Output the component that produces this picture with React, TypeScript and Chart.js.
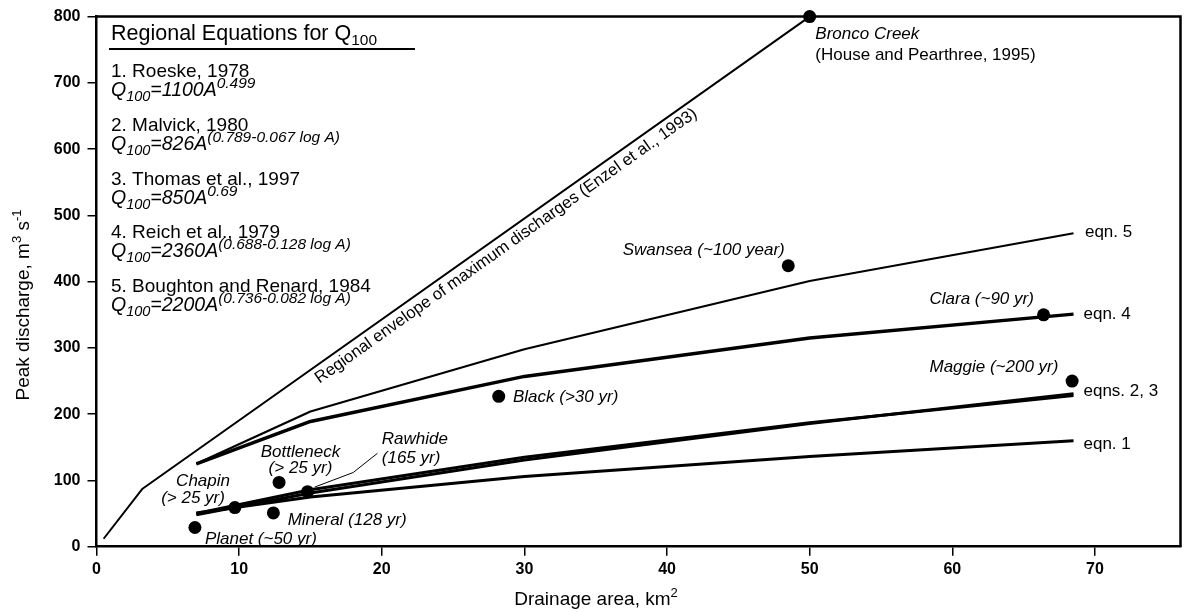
import React, { useEffect, useRef } from "react";
import { Chart, registerables } from "chart.js";

Chart.register(...registerables);

// ---------- data ----------
const eqnAreas = [7, 15, 30, 50, 68.5];
const eqn1Values = [51, 75, 106, 136, 160];
const eqn2Values = [50, 86, 135, 187, 228];
const eqn3Values = [48, 81, 131, 186, 231];
const eqn4Values = [125, 189, 257, 315, 351];
const eqn5Values = [125, 204, 298, 401, 473];

const envelopeAreas = [0.5, 3.2, 50];
const envelopeValues = [12, 87, 800];

const siteNames = ["Bronco Creek", "Swansea", "Clara", "Maggie", "Black", "Bottleneck", "Rawhide", "Chapin", "Mineral", "Planet"];
const siteAreas = [50, 48.5, 66.4, 68.4, 28.2, 12.8, 14.8, 9.7, 12.4, 6.9];
const siteDischarges = [800, 424, 350, 250, 227, 97, 83, 59, 51, 29];

const leaderAreas = [15.3, 18.0, 19.7];
const leaderValues = [90, 112, 141];

const xTickValues = [0, 10, 20, 30, 40, 50, 60, 70];
const yTickValues = [0, 100, 200, 300, 400, 500, 600, 700, 800];

const eqnRefs = ["1. Roeske, 1978", "2. Malvick, 1980", "3. Thomas et al., 1997", "4. Reich et al., 1979", "5. Boughton and Renard, 1984"];
const eqnCoefs = ["=1100A", "=826A", "=850A", "=2360A", "=2200A"];
const eqnExps = ["0.499", "(0.789-0.067 log A)", "0.69", "(0.688-0.128 log A)", "(0.736-0.082 log A)"];

const legendTitle = "Regional Equations for Q";
const envelopeText = "Regional envelope of maximum discharges (Enzel et al., 1993)";
const xTitle = "Drainage area, km";
const yTitle = "Peak discharge, m";

const FONT = '"Liberation Sans", Arial, Helvetica, sans-serif';

type Seg = { t: string; size: number; italic?: boolean; bold?: boolean; dy?: number };

function segFont(s: Seg) {
  return `${s.italic ? "italic " : ""}${s.bold ? "bold " : ""}${s.size}px ${FONT}`;
}

function drawRich(ctx: CanvasRenderingContext2D, segs: Seg[], x: number, y: number, align: string) {
  let w = 0;
  for (const s of segs) {
    ctx.font = segFont(s);
    w += ctx.measureText(s.t).width;
  }
  let cx = align === "left" ? x : align === "center" ? x - w / 2 : x - w;
  ctx.textAlign = "left";
  ctx.textBaseline = "alphabetic";
  for (const s of segs) {
    ctx.font = segFont(s);
    ctx.fillText(s.t, cx, y + (s.dy || 0));
    cx += ctx.measureText(s.t).width;
  }
}

export default function App() {
  const ref = useRef<HTMLCanvasElement | null>(null);

  useEffect(() => {
    const canvas = ref.current;
    if (!canvas) return;

    const siteLabels = [
      { t: "Bronco Creek", x: 50.4, y: 776, a: "left", i: true },
      { t: "(House and Pearthree, 1995)", x: 50.4, y: 744, a: "left", i: false },
      { t: "Swansea (~100 year)", x: 48.25, y: 449, a: "right", i: true },
      { t: "Clara (~90 yr)", x: 58.4, y: 376, a: "left", i: true },
      { t: "Maggie (~200 yr)", x: 58.4, y: 273, a: "left", i: true },
      { t: "Black (>30 yr)", x: 29.2, y: 227, a: "left", i: true },
      { t: "Bottleneck", x: 14.3, y: 145, a: "center", i: true },
      { t: "(> 25 yr)", x: 14.3, y: 120, a: "center", i: true },
      { t: "Chapin", x: 7.47, y: 100, a: "center", i: true },
      { t: "(> 25 yr)", x: 6.77, y: 75, a: "center", i: true },
      { t: "Rawhide", x: 20.0, y: 164, a: "left", i: true },
      { t: "(165 yr)", x: 20.0, y: 135, a: "left", i: true },
      { t: "Mineral (128 yr)", x: 13.4, y: 42, a: "left", i: true },
      { t: "Planet (~50 yr)", x: 7.6, y: 13, a: "left", i: true },
      { t: "eqn. 5", x: 69.3, y: 476, a: "left", i: false },
      { t: "eqn. 4", x: 69.2, y: 353, a: "left", i: false },
      { t: "eqns. 2, 3", x: 69.2, y: 236, a: "left", i: false },
      { t: "eqn. 1", x: 69.2, y: 156, a: "left", i: false },
    ];

    const annot = {
      id: "annot",
      afterDraw(chart: any) {
        const ctx: CanvasRenderingContext2D = chart.ctx;
        const xs = chart.scales.x;
        const ys = chart.scales.y;
        const area = chart.chartArea;
        ctx.save();
        ctx.fillStyle = "#000";
        ctx.strokeStyle = "#000";

        // frame top and right
        ctx.lineWidth = 2.5;
        ctx.beginPath();
        ctx.moveTo(area.left, area.top);
        ctx.lineTo(area.right, area.top);
        ctx.lineTo(area.right, area.bottom);
        ctx.stroke();

        // site labels
        for (const l of siteLabels) {
          const px = xs.getPixelForValue(l.x);
          const py = ys.getPixelForValue(l.y);
          drawRich(ctx, [{ t: l.t, size: 17, italic: l.i }], px, py + 6, l.a);
        }

        // envelope label
        const p1x = xs.getPixelForValue(envelopeAreas[1]);
        const p1y = ys.getPixelForValue(envelopeValues[1]);
        const p2x = xs.getPixelForValue(envelopeAreas[2]);
        const p2y = ys.getPixelForValue(envelopeValues[2]);
        const ang = Math.atan2(p2y - p1y, p2x - p1x);
        const t = 0.535;
        const cx = p1x + (p2x - p1x) * t;
        const cy = p1y + (p2y - p1y) * t;
        ctx.save();
        ctx.translate(cx, cy);
        ctx.rotate(ang);
        ctx.font = `16.7px ${FONT}`;
        ctx.textAlign = "center";
        ctx.textBaseline = "middle";
        ctx.fillText(envelopeText, 0, 12);
        ctx.restore();

        // legend block
        const lx = 111;
        drawRich(ctx, [
          { t: legendTitle, size: 21.5 },
          { t: "100", size: 15.5, dy: 5 },
        ], lx, 40, "left");
        ctx.lineWidth = 2;
        ctx.beginPath();
        ctx.moveTo(109, 49);
        ctx.lineTo(415, 49);
        ctx.stroke();
        for (let i = 0; i < eqnRefs.length; i++) {
          const by = 77 + i * 53.8;
          drawRich(ctx, [{ t: eqnRefs[i], size: 19 }], lx, by, "left");
          drawRich(ctx, [
            { t: "Q", size: 19.5, italic: true },
            { t: "100", size: 14.5, italic: true, dy: 5 },
            { t: eqnCoefs[i], size: 19.5, italic: true },
            { t: eqnExps[i], size: 15.5, italic: true, dy: -8 },
          ], lx, by + 19, "left");
        }

        // axis titles
        drawRich(ctx, [
          { t: xTitle, size: 19 },
          { t: "2", size: 13, dy: -8 },
        ], 596, 605, "center");

        ctx.save();
        ctx.translate(29, 305);
        ctx.rotate(-Math.PI / 2);
        drawRich(ctx, [
          { t: yTitle, size: 19 },
          { t: "3", size: 13, dy: -8 },
          { t: " s", size: 19 },
          { t: "-1", size: 13, dy: -8 },
        ], 0, 0, "center");
        ctx.restore();

        ctx.restore();
      },
    };

    const lineDs = (data: number[], xs: number[], w: number) => ({
      type: "scatter" as const,
      data: xs.map((x, i) => ({ x, y: data[i] })),
      showLine: true,
      borderColor: "#000",
      backgroundColor: "#000",
      borderWidth: w,
      pointRadius: 0,
      borderJoinStyle: "round" as const,
      clip: false as any,
    });

    const chart = new Chart(canvas, {
      type: "scatter",
      data: {
        datasets: [
          lineDs(envelopeValues, envelopeAreas, 2),
          lineDs(eqn5Values, eqnAreas, 2.2),
          lineDs(eqn4Values, eqnAreas, 3.5),
          lineDs(eqn3Values, eqnAreas, 3),
          lineDs(eqn2Values, eqnAreas, 3),
          lineDs(eqn1Values, eqnAreas, 3),
          lineDs(leaderValues, leaderAreas, 1),
          {
            type: "scatter",
            label: "sites",
            data: siteAreas.map((x, i) => ({ x, y: siteDischarges[i], name: siteNames[i] })) as any,
            pointRadius: 6.5,
            pointBackgroundColor: "#000",
            pointBorderWidth: 0,
            showLine: false,
            clip: false as any,
          },
        ],
      },
      options: {
        animation: false,
        responsive: false,
        devicePixelRatio: 1,
        layout: { padding: { top: 15, right: 5, left: 0, bottom: 0 } },
        plugins: { legend: { display: false }, tooltip: { enabled: false } },
        scales: {
          x: {
            type: "linear",
            min: 0,
            max: 76,
            afterBuildTicks: (s: any) => {
              s.ticks = xTickValues.map((v) => ({ value: v }));
            },
            afterFit: (s: any) => {
              s.height = 65.3;
            },
            grid: { drawOnChartArea: false, drawTicks: true, tickLength: 9, color: "#000", lineWidth: 1.5 },
            border: { display: true, color: "#000", width: 2.5 },
            ticks: {
              color: "#000",
              font: { family: FONT, size: 16, weight: "bold" },
              padding: 4,
              maxRotation: 0,
              autoSkip: false,
            },
          },
          y: {
            type: "linear",
            min: 0,
            max: 800,
            afterBuildTicks: (s: any) => {
              s.ticks = yTickValues.map((v) => ({ value: v }));
            },
            afterFit: (s: any) => {
              s.width = 96.5;
            },
            grid: { drawOnChartArea: false, drawTicks: true, tickLength: 9, color: "#000", lineWidth: 1.5 },
            border: { display: true, color: "#000", width: 2.5 },
            ticks: {
              color: "#000",
              font: { family: FONT, size: 16, weight: "bold" },
              padding: 7,
              autoSkip: false,
            },
          },
        },
      } as any,
      plugins: [annot],
    } as any);

    return () => chart.destroy();
  }, []);

  return (
    <div style={{ position: "absolute", left: 0, top: 0, width: 1187, height: 612, background: "#fff" }}>
      <canvas ref={ref} width={1187} height={612} style={{ width: 1187, height: 612, display: "block" }} />
    </div>
  );
}
